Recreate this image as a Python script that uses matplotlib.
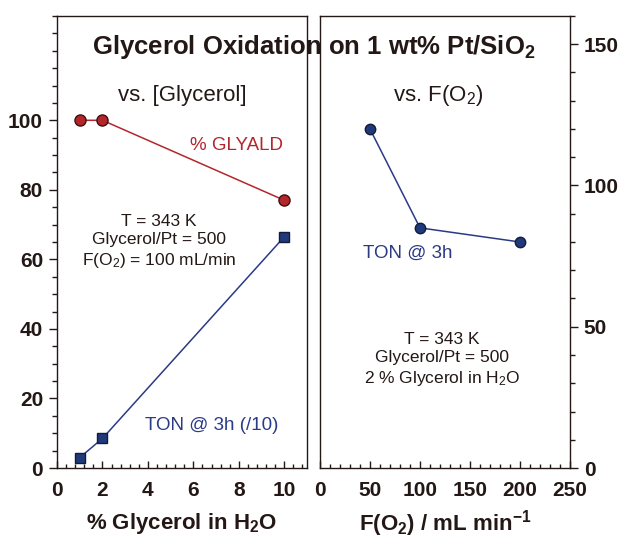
import matplotlib.pyplot as plt
from matplotlib.ticker import MultipleLocator

plt.rcParams['font.family'] = ['Liberation Sans', 'DejaVu Sans']
plt.rcParams['mathtext.fontset'] = 'custom'
plt.rcParams['mathtext.rm'] = 'Liberation Sans'
plt.rcParams['mathtext.bf'] = 'Liberation Sans:bold'
plt.rcParams['mathtext.default'] = 'regular'

INK = '#231815'
RED = '#b3262b'
BLUE = '#2b3a86'

# left panel: vs. glycerol concentration
glycerol_pct = [1, 2, 10]
glyald_sel = [100, 100, 77]
ton_div10 = [3, 8.5, 66.5]

# right panel: vs. O2 flow
o2_flow = [50, 100, 200]
ton_3h = [120, 85, 80]

fig = plt.figure(figsize=(6.23, 5.38), dpi=100)
ax1 = fig.add_axes([0.0915, 0.1301, 0.4013, 0.8402])
ax2 = fig.add_axes([0.5136, 0.1301, 0.4013, 0.8402])

for ax in (ax1, ax2):
    for s in ax.spines.values():
        s.set_linewidth(1.0)
        s.set_color(INK)

ax1.plot(glycerol_pct, glyald_sel, '-o', color=RED, lw=1.1, ms=8,
         mfc=RED, mec='#3a1212', mew=1.0)
ax1.plot(glycerol_pct, ton_div10, '-s', color=BLUE, lw=1.1, ms=7.5,
         mfc='#1f3a7a', mec='#151a3a', mew=1.0)
ax1.set_xlim(0, 11)
ax1.set_ylim(0, 130)
ax1.set_xticks([0, 2, 4, 6, 8, 10])
ax1.set_yticks([0, 20, 40, 60, 80, 100])
ax1.xaxis.set_minor_locator(MultipleLocator(0.4))
ax1.yaxis.set_minor_locator(MultipleLocator(5))
ax1.tick_params(axis='y', which='both', direction='out', left=True, right=False,
                colors=INK, labelsize=15, pad=4)
ax1.tick_params(axis='y', which='major', length=6, width=1)
ax1.tick_params(axis='y', which='minor', length=3.5, width=1)
ax1.tick_params(axis='x', which='both', direction='in', top=False,
                colors=INK, labelsize=15, pad=9)
ax1.tick_params(axis='x', which='major', length=5, width=1)
ax1.tick_params(axis='x', which='minor', length=3, width=1)
for lab in ax1.get_xticklabels() + ax1.get_yticklabels():
    lab.set_fontweight('bold')
ax1.set_xlabel('% Glycerol in H$_2$O', fontsize=16, fontweight='bold',
               color=INK, labelpad=8)

ax2.plot(o2_flow, ton_3h, '-o', color=BLUE, lw=1.1, ms=7.5,
         mfc='#1f3a7a', mec='#151a3a', mew=1.0)
ax2.set_xlim(0, 250)
ax2.set_ylim(0, 160)
ax2.set_xticks([0, 50, 100, 150, 200, 250])
ax2.set_yticks([0, 50, 100, 150])
ax2.xaxis.set_minor_locator(MultipleLocator(10))
ax2.yaxis.set_minor_locator(MultipleLocator(10))
ax2.yaxis.tick_right()
ax2.tick_params(axis='y', which='both', direction='out', left=False, right=True,
                colors=INK, labelsize=15, pad=4)
ax2.tick_params(axis='y', which='major', length=6, width=1)
ax2.tick_params(axis='y', which='minor', length=3.5, width=1)
ax2.tick_params(axis='x', which='both', direction='in', top=False,
                colors=INK, labelsize=15, pad=9)
ax2.tick_params(axis='x', which='major', length=5, width=1)
ax2.tick_params(axis='x', which='minor', length=3, width=1)
for lab in ax2.get_xticklabels() + ax2.get_yticklabels():
    lab.set_fontweight('bold')
ax2.set_xlabel('F(O$_2$) / mL min$^{-1}$', fontsize=16, fontweight='bold',
               color=INK, labelpad=6)

# annotations placed in figure pixel coordinates (y measured from top)
def ftext(x, y, s, **kw):
    fig.text(x / 623, 1 - y / 538, s, ha='center', va='center', **kw)

ftext(314, 47, 'Glycerol Oxidation on 1 wt% Pt/SiO$_2$', fontsize=18.5,
      fontweight='bold', color=INK)
ftext(182, 96, 'vs. [Glycerol]', fontsize=16, color=INK)
ftext(237, 146, '% GLYALD', fontsize=13.5, color=RED)
ftext(159, 242, 'T = 343 K\nGlycerol/Pt = 500\nF(O$_2$) = 100 mL/min',
      fontsize=12.5, color=INK, linespacing=1.25)
ftext(212, 425, 'TON @ 3h (/10)', fontsize=13.5, color=BLUE)
ftext(438, 96, 'vs. F(O$_2$)', fontsize=16, color=INK)
ftext(408, 253, 'TON @ 3h', fontsize=13.5, color=BLUE)
ftext(442, 360, 'T = 343 K\nGlycerol/Pt = 500\n2 % Glycerol in H$_2$O',
      fontsize=12.5, color=INK, linespacing=1.25)

fig.savefig('out.png', dpi=100)
